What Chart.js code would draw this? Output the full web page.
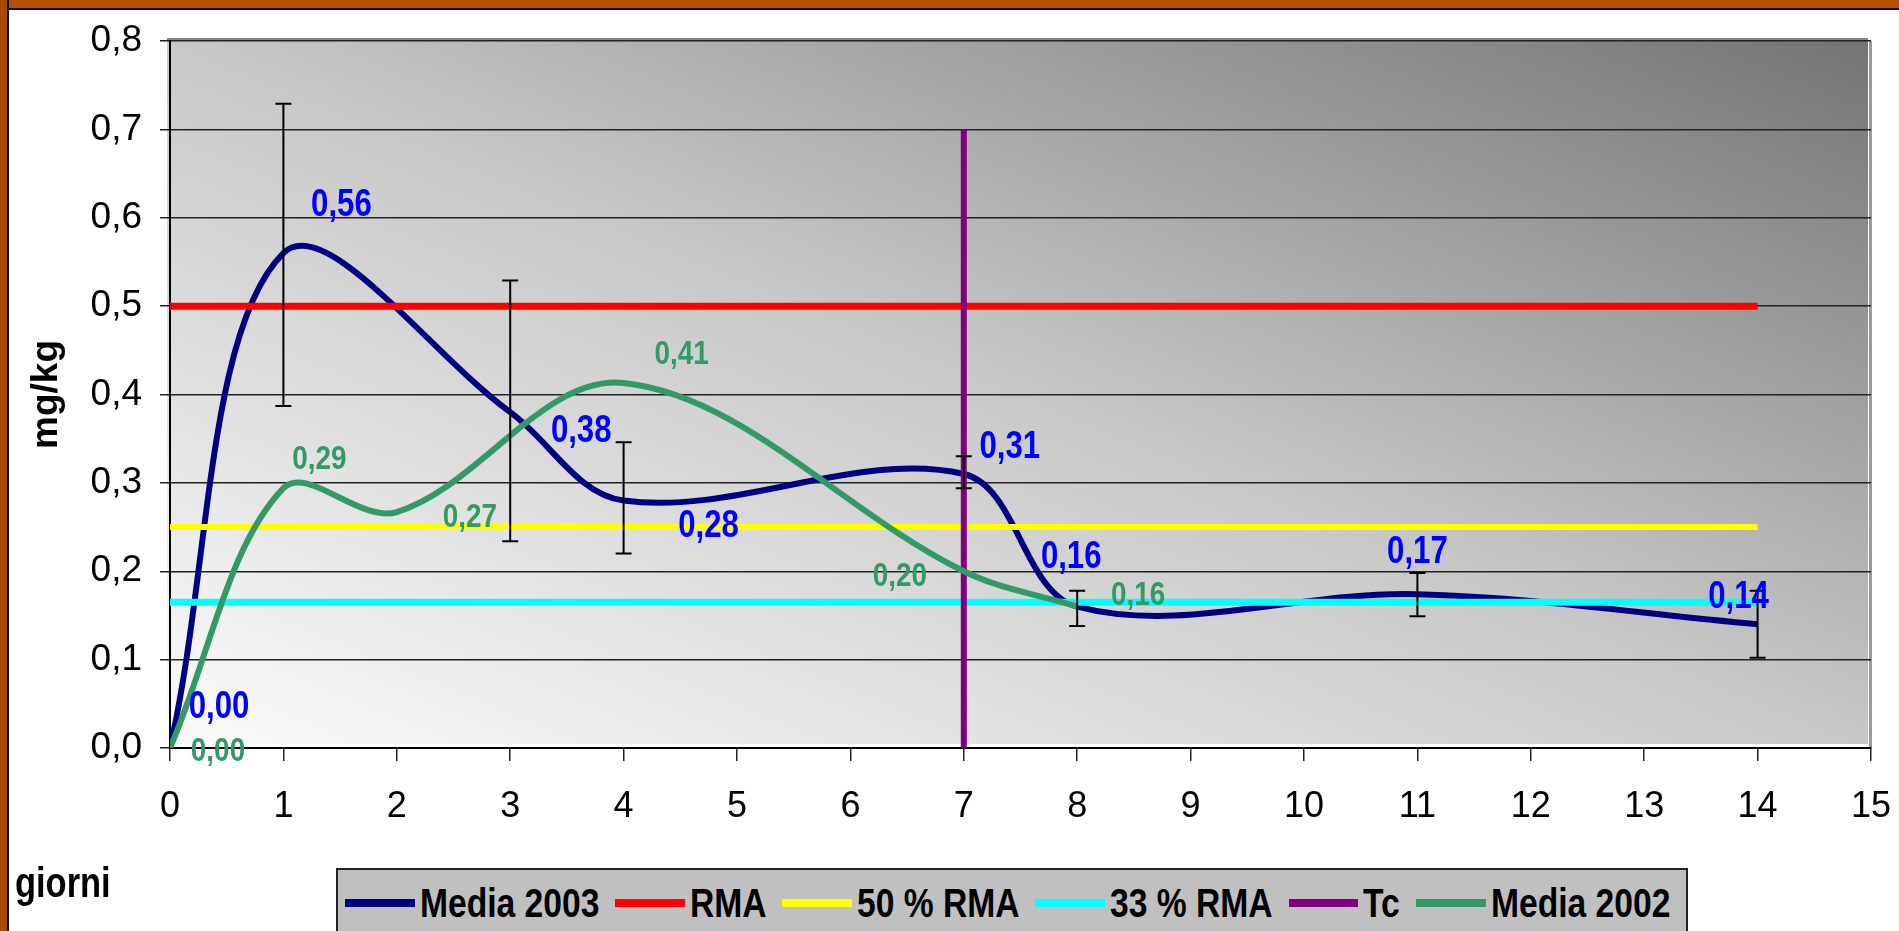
<!DOCTYPE html>
<html>
<head>
<meta charset="utf-8">
<script src="https://cdn.jsdelivr.net/npm/chart.js@4.4.1/dist/chart.umd.min.js"></script>
<style>
html, body { margin: 0; padding: 0; background: #fff; }
#wrap { position: relative; width: 1899px; height: 931px; overflow: hidden; }
#frameTop { position: absolute; left: 0; top: 0; width: 1899px; height: 8px; background: #b25300; border-bottom: 2px solid #111; }
#frameLeft { position: absolute; left: 0; top: 0; width: 7px; height: 931px; background: #a94b00; border-right: 2px solid #111; }
#legend {
    position: absolute; left: 336px; top: 868px; width: 1352px; height: 66px;
    background: #c0c0c0; border: 2px solid #222; box-sizing: border-box;
    display: flex; align-items: center; padding-left: 7px; padding-top: 4px;
    font-family: "Liberation Sans", Arial, sans-serif;
    font-weight: bold; font-size: 41px; color: #000;
}
#legend .sw { display: inline-block; width: 71px; height: 8px; margin-right: 5px; }
#legend .lt { display: inline-block; line-height: 1; margin-right: 16px; white-space: nowrap; }
#legend .lt span { display: inline-block; transform: scaleX(0.82); transform-origin: 0 50%; }
</style>
</head>
<body>
<div id="wrap">
    <canvas id="chart" width="1899" height="931"></canvas>
    <div id="frameTop"></div>
    <div id="frameLeft"></div>
    <div id="legend"></div>
</div>
<script>
// Media 2003 (with error bars)
const days2003 = [0, 1, 3, 4, 7, 8, 11, 14];
const media2003 = [0, 0.56, 0.38, 0.28, 0.31, 0.16, 0.174, 0.14];
const errLow2003 = [0, 0.387, 0.234, 0.22, 0.294, 0.138, 0.149, 0.102];
const errHigh2003 = [0, 0.729, 0.529, 0.346, 0.330, 0.178, 0.198, 0.178];

// Media 2002
const days2002 = [0, 1, 2, 4, 7, 8];
const media2002 = [0, 0.294, 0.267, 0.413, 0.2, 0.16];

// reference lines
const limitDays = [0, 14];
const rma = 0.5;
const rma50 = 0.25;
const rma33 = 0.165;
const tcDay = 7;
const tcRange = [0, 0.7];

const legendNames = ['Media 2003', 'RMA', '50 % RMA', '33 % RMA', 'Tc', 'Media 2002'];
const legendColors = ['#000080', '#ff0000', '#ffff00', '#00ffff', '#800080', '#339966'];

// label placement (pixel nudges, Excel labels were moved by hand)
const labelOff2003 = [[49, -44], [58, -51], [71, 16], [85, 23], [46, -30], [-6, -52], [0, -45], [-19, -30]];
const labelOff2002 = [[48, 1], [36, -31], [73, 3], [58, -31], [-64, 3], [61, -14]];

const SANS = '"Liberation Sans", Arial, sans-serif';
const NARROW_X = 0.82; // no narrow face installed, squeeze the bold one

const fmt = v => v.toFixed(2).replace('.', ',');
const pts = (xs, ys) => xs.map((x, i) => ({ x: x, y: ys[i] }));
const flat = v => limitDays.map(d => ({ x: d, y: v }));

// legend
const legendEl = document.getElementById('legend');
const measure = document.createElement('canvas').getContext('2d');
measure.font = 'bold 41px ' + SANS;
legendNames.forEach((name, i) => {
    const sw = document.createElement('span');
    sw.className = 'sw';
    sw.style.background = legendColors[i];
    const lt = document.createElement('span');
    lt.className = 'lt';
    lt.style.width = (measure.measureText(name).width * NARROW_X) + 'px';
    const inner = document.createElement('span');
    inner.textContent = name;
    lt.appendChild(inner);
    legendEl.appendChild(sw);
    legendEl.appendChild(lt);
});

function narrowText(ctx, text, x, y) {
    ctx.save();
    ctx.translate(x, y);
    ctx.scale(NARROW_X, 1);
    ctx.fillText(text, 0, 0);
    ctx.restore();
}

const decor = {
    id: 'decor',
    beforeDraw(chart) {
        const ctx = chart.ctx;
        const a = chart.chartArea;
        const L = a.left - 3, T = a.top - 3, R = a.right - 3, B = a.bottom - 4;
        const W = R - L, H = B - T;
        const cx = (L + R) / 2, cy = (T + B) / 2;
        const k = W * H / (W * W + H * H);
        const g = ctx.createLinearGradient(cx - k * H, cy + k * W, cx + k * H, cy - k * W);
        g.addColorStop(0, '#fbfbfb');
        g.addColorStop(0.5, '#c8c8c8');
        g.addColorStop(1, '#747474');
        ctx.save();
        ctx.fillStyle = g;
        ctx.fillRect(L, T, W, H);
        ctx.fillStyle = '#888';
        ctx.fillRect(L, T, W, 3);
        ctx.fillStyle = '#9a9a9a';
        ctx.fillRect(a.right - 2, a.top, 3, a.bottom - a.top);
        ctx.restore();
    },
    afterDatasetsDraw(chart) {
        const ctx = chart.ctx;
        const xs = chart.scales.x, ys = chart.scales.y;
        ctx.save();
        // error bars
        ctx.strokeStyle = '#000';
        ctx.lineWidth = 2;
        days2003.forEach((d, i) => {
            if (errHigh2003[i] === errLow2003[i]) return;
            const px = xs.getPixelForValue(d);
            const y1 = ys.getPixelForValue(errLow2003[i]);
            const y2 = ys.getPixelForValue(errHigh2003[i]);
            ctx.beginPath();
            ctx.moveTo(px, y1); ctx.lineTo(px, y2);
            ctx.moveTo(px - 8, y1); ctx.lineTo(px + 8, y1);
            ctx.moveTo(px - 8, y2); ctx.lineTo(px + 8, y2);
            ctx.stroke();
        });
        // data labels
        ctx.textAlign = 'center';
        ctx.textBaseline = 'alphabetic';
        ctx.font = 'bold 38px ' + SANS;
        ctx.fillStyle = '#0000ff';
        days2003.forEach((d, i) => {
            const px = xs.getPixelForValue(d) + labelOff2003[i][0];
            const py = ys.getPixelForValue(media2003[i]) + labelOff2003[i][1];
            narrowText(ctx, fmt(media2003[i]), px, py + 38 * 0.358);
        });
        ctx.font = 'bold 34px ' + SANS;
        ctx.fillStyle = '#339966';
        days2002.forEach((d, i) => {
            const px = xs.getPixelForValue(d) + labelOff2002[i][0];
            const py = ys.getPixelForValue(media2002[i]) + labelOff2002[i][1];
            narrowText(ctx, fmt(media2002[i]), px, py + 34 * 0.358);
        });
        // axis caption bottom left
        ctx.textAlign = 'left';
        ctx.fillStyle = '#000';
        ctx.font = 'bold 42px ' + SANS;
        narrowText(ctx, 'giorni', 15, 897);
        ctx.restore();
    }
};

new Chart(document.getElementById('chart'), {
    type: 'line',
    data: {
        datasets: [{
            label: legendNames[0],
            data: pts(days2003, media2003),
            borderColor: legendColors[0],
            borderWidth: 6,
            tension: 0.35,
            pointRadius: 0,
            order: 6
        }, {
            label: legendNames[1],
            data: flat(rma),
            borderColor: legendColors[1],
            borderWidth: 7,
            pointRadius: 0,
            order: 5
        }, {
            label: legendNames[2],
            data: flat(rma50),
            borderColor: legendColors[2],
            borderWidth: 6,
            pointRadius: 0,
            order: 4
        }, {
            label: legendNames[3],
            data: flat(rma33),
            borderColor: legendColors[3],
            borderWidth: 7,
            pointRadius: 0,
            order: 3
        }, {
            label: legendNames[4],
            data: tcRange.map(v => ({ x: tcDay, y: v })),
            borderColor: legendColors[4],
            borderWidth: 6,
            pointRadius: 0,
            order: 2
        }, {
            label: legendNames[5],
            data: pts(days2002, media2002),
            borderColor: legendColors[5],
            borderWidth: 6,
            tension: 0.35,
            pointRadius: 0,
            order: 1
        }]
    },
    options: {
        responsive: false,
        animation: false,
        events: [],
        layout: {
            padding: { left: 0, right: 28, top: 41, bottom: 0 }
        },
        plugins: {
            legend: { display: false },
            tooltip: { enabled: false }
        },
        scales: {
            x: {
                type: 'linear',
                min: 0,
                max: 15,
                ticks: {
                    stepSize: 1,
                    color: '#000',
                    padding: 24,
                    font: { family: SANS, size: 36 }
                },
                grid: {
                    drawOnChartArea: false,
                    tickLength: 13,
                    color: '#222',
                    lineWidth: 1.5
                },
                border: { color: '#000', width: 2 },
                afterFit: s => {
                    s.height = 183;
                    s.paddingLeft = 0;
                    s.paddingRight = 0;
                }
            },
            y: {
                min: 0,
                max: 0.8,
                ticks: {
                    stepSize: 0.1,
                    color: '#000',
                    padding: 18,
                    font: { family: SANS, size: 37 },
                    callback: v => v.toFixed(1).replace('.', ',')
                },
                grid: {
                    color: '#222',
                    lineWidth: 1.5,
                    tickLength: 10
                },
                border: { color: '#000', width: 2 },
                title: {
                    display: true,
                    text: 'mg/kg',
                    color: '#000',
                    font: { family: SANS, size: 37, weight: 'bold' },
                    padding: { top: 25, bottom: 0 }
                },
                afterFit: s => {
                    s.width = 170;
                    s.paddingTop = 0;
                    s.paddingBottom = 0;
                }
            }
        }
    },
    plugins: [decor]
});
</script>
</body>
</html>
